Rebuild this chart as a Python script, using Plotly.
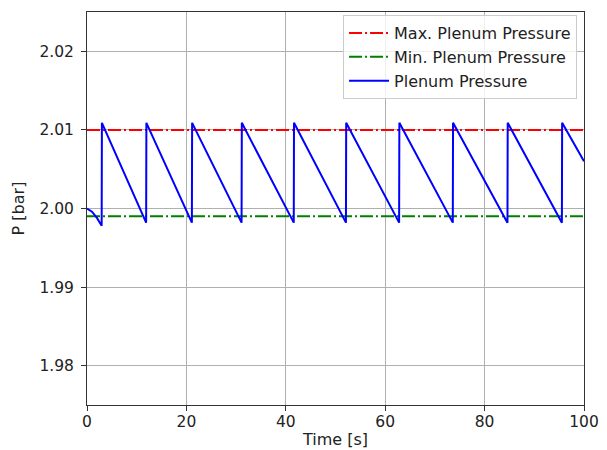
import plotly.graph_objects as go

# Plenum pressure time history (s, bar)
time_s = [0.0, 1.0, 2.0, 2.95, 3.0,
          11.9, 11.95,
          21.1, 21.15,
          31.1, 31.15,
          41.6, 41.65,
          52.1, 52.15,
          62.8, 62.85,
          73.6, 73.65,
          84.6, 84.65,
          95.55, 95.6,
          100.0]
pressure_bar = [2.0000, 1.9996, 1.9988, 1.9978, 2.0109,
                1.9982, 2.0109,
                1.9982, 2.0109,
                1.9982, 2.0109,
                1.9982, 2.0109,
                1.9982, 2.0109,
                1.9982, 2.0109,
                1.9982, 2.0109,
                1.9982, 2.0109,
                1.9982, 2.0109,
                2.0060]

p_max = 2.010
p_min = 1.999
t_range = [0, 100]

font = dict(family="DejaVu Sans", size=16, color="#222222")
tick_font = dict(family="DejaVu Sans", size=15.5, color="#222222")
dashdot = "13px,3px,2px,3px"

fig = go.Figure()
fig.add_trace(go.Scatter(x=t_range, y=[p_max, p_max], mode="lines",
                         name="Max. Plenum Pressure",
                         line=dict(color="#ff0000", width=2, dash=dashdot)))
fig.add_trace(go.Scatter(x=t_range, y=[p_min, p_min], mode="lines",
                         name="Min. Plenum Pressure",
                         line=dict(color="#008000", width=2, dash=dashdot)))
fig.add_trace(go.Scatter(x=time_s, y=pressure_bar, mode="lines",
                         name="Plenum Pressure",
                         line=dict(color="#0000ff", width=2)))

axis_common = dict(showline=True, linecolor="#333333", linewidth=1, mirror=True,
                   showgrid=True, gridcolor="#b0b0b0", gridwidth=0.8,
                   ticks="outside", ticklen=5, tickcolor="#333333",
                   zeroline=False, tickfont=tick_font, automargin=False)

fig.update_xaxes(range=t_range, tickvals=[0, 20, 40, 60, 80, 100],
                 ticklabelstandoff=-3,
                 title=dict(text="Time [s]", font=font, standoff=4), **axis_common)
fig.update_yaxes(range=[1.975, 2.025],
                 tickvals=[1.98, 1.99, 2.00, 2.01, 2.02], tickformat=".2f",
                 ticklabelstandoff=4,
                 title=dict(text="P [bar]", font=font, standoff=10), **axis_common)

fig.update_layout(
    width=607, height=450,
    margin=dict(l=87, r=23, t=12, b=45),
    paper_bgcolor="white", plot_bgcolor="white",
    font=font,
    showlegend=True,
    legend=dict(x=0.986, y=0.992, xanchor="right", yanchor="top",
                bgcolor="rgba(255,255,255,0.8)", bordercolor="#cccccc", borderwidth=1,
                font=dict(family="DejaVu Sans", size=16, color="#222222"),
                itemwidth=40, tracegroupgap=0),
)

fig.write_html("out.html")
